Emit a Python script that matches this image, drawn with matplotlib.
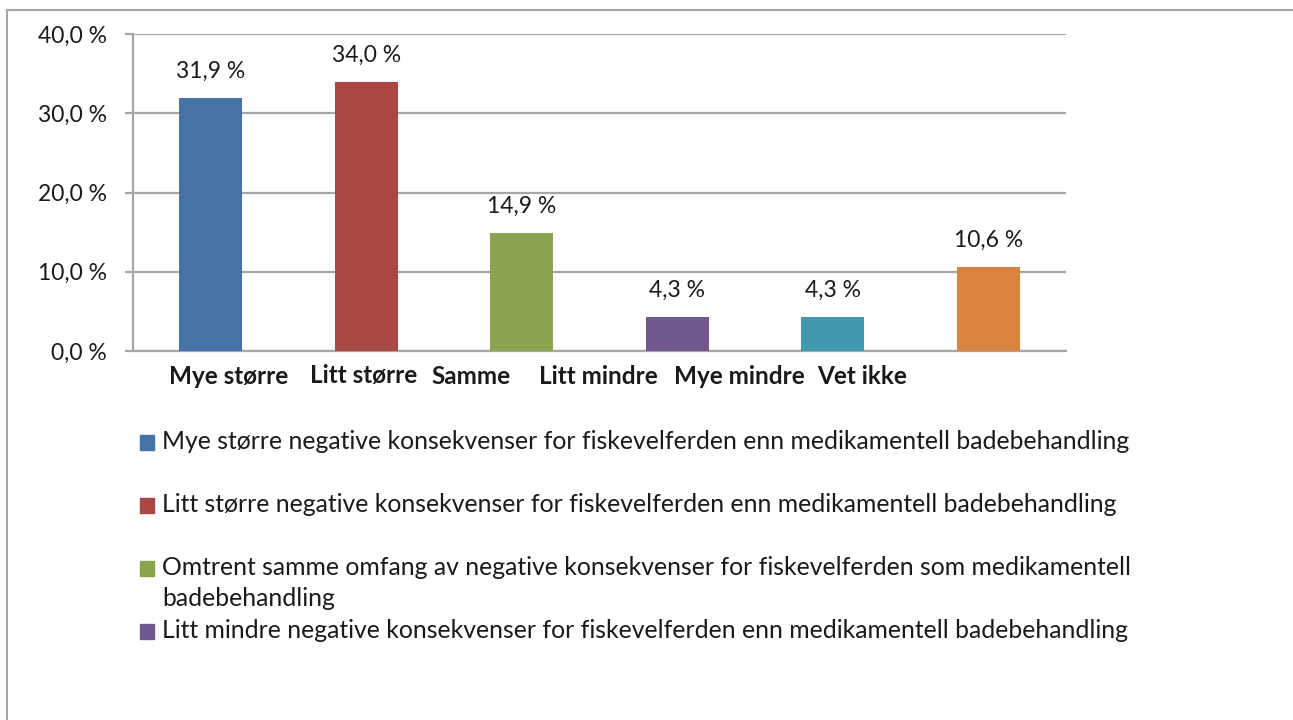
import matplotlib
matplotlib.use('Agg')
import matplotlib.pyplot as plt
from matplotlib.patches import Rectangle

categories = ["Mye større", "Litt større", "Samme", "Litt mindre", "Mye mindre", "Vet ikke"]
values = [31.9, 34.0, 14.9, 4.3, 4.3, 10.6]
colors = ['#4572A7', '#AA4643', '#89A54E', '#71588F', '#4198AF', '#DB843D']
# x-label centres as placed in the original (pixels), they don't line up with the bars
label_px = [229, 364, 471, 598, 739, 862]
legend_labels = [
    "Mye større negative konsekvenser for fiskevelferden enn medikamentell badebehandling",
    "Litt større negative konsekvenser for fiskevelferden enn medikamentell badebehandling",
    "Omtrent samme omfang av negative konsekvenser for fiskevelferden som medikamentell\nbadebehandling",
    "Litt mindre negative konsekvenser for fiskevelferden enn medikamentell badebehandling",
]

plt.rcParams['font.family'] = ['Lato', 'DejaVu Sans']
txt = '#1a1a1a'
grid = '#a6a6a6'
W, H = 1293, 720

fig = plt.figure(figsize=(W / 100, H / 100), dpi=100)
ax = fig.add_axes([133 / W, 1 - 351 / H, (1066 - 133) / W, (351 - 34) / H])

x = range(len(values))
ax.bar(x, values, width=0.405, color=colors, zorder=3)
ax.set_xlim(-0.5, len(values) - 0.5)
ax.set_ylim(0, 40)
ax.set_yticks([0, 10, 20, 30, 40])
ax.set_yticklabels([f"{v:.1f} %".replace('.', ',') for v in [0, 10, 20, 30, 40]], fontsize=16.5, color=txt)
ax.yaxis.grid(True, color=grid, lw=1.6, zorder=0)
ax.tick_params(axis='y', length=6, width=1.6, color=grid, pad=13)
ax.tick_params(axis='x', length=0, labelbottom=False)
for s in ['top', 'right']:
    ax.spines[s].set_visible(False)
for s in ['left', 'bottom']:
    ax.spines[s].set_color(grid)
    ax.spines[s].set_linewidth(1.6)

for i, v in enumerate(values):
    ax.annotate(f"{v:.1f} %".replace('.', ','), (i, v), xytext=(0, 19), textcoords='offset points',
                ha='center', va='center', fontsize=16.5, color=txt)

for lab, px in zip(categories, label_px):
    fig.text(px / W, 1 - 376 / H, lab, ha='center', va='center', fontsize=17.5,
             fontweight='bold', color=txt)

# legend, drawn by hand so the wrapped entry keeps the original spacing
for i, (lab, c) in enumerate(zip(legend_labels, colors)):
    y = 443 + i * 63
    fig.patches.append(Rectangle((140 / W, 1 - (y + 7) / H), 14 / W, 15 / H,
                                 transform=fig.transFigure, color=c))
    fig.text(162 / W, 1 - (y - 13) / H, lab, ha='left', va='top', fontsize=17.8,
             color=txt, linespacing=1.4)

# outer chart frame
fig.patches.append(Rectangle((7 / W, -0.1), 1.2, 1.1 - 10 / H, transform=fig.transFigure,
                             fill=False, ec=grid, lw=1.5))

fig.savefig('out.png', dpi=100)
